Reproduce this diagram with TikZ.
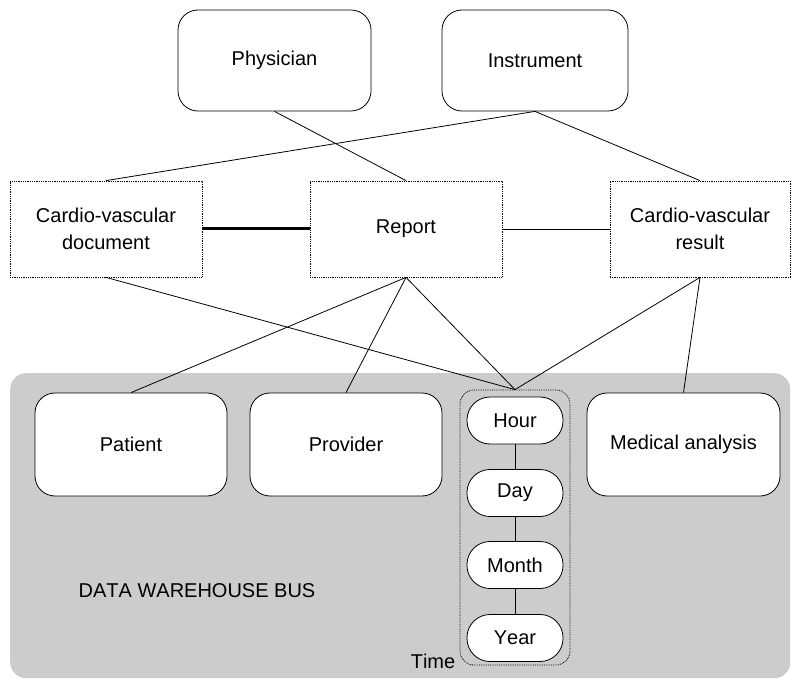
\documentclass[tikz,border=0pt]{standalone}
\usepackage{fontspec}
\setmainfont[Kerning=Off]{Liberation Sans}
\begin{document}
\begin{tikzpicture}[x=1pt,y=-1pt,
  every node/.style={font=\fontsize{20}{26.5}\selectfont, align=center, inner sep=0pt},
  roundbox/.style={draw, line width=0.8pt, rounded corners=20pt, fill=white},
  dotbox/.style={draw, densely dotted, line width=0.8pt, fill=white},
  pill/.style={draw, line width=0.8pt, rounded corners=23pt, fill=white, minimum width=96pt, minimum height=47pt},
  conn/.style={line width=0.8pt},
  thickconn/.style={line width=3pt}]
\useasboundingbox (0,0) rectangle (792,684);
% bus
\node[fill=black!20, rounded corners=16pt, minimum width=780pt, minimum height=305pt, anchor=north west] (bus) at (10,373) {};
\node (buslabel) at (197,591) {DATA WAREHOUSE BUS};
% top boxes
\node[roundbox, minimum width=193pt, minimum height=101pt] (phys) at (274.5,60.5) {Physician};
\node[roundbox, minimum width=186pt, minimum height=101pt] (inst) at (535,60.5) {Instrument};
% middle
\node[dotbox, minimum width=192pt, minimum height=96pt] (doc) at (106,229) {Cardio-vascular\\document};
\node[dotbox, minimum width=192pt, minimum height=96pt] (rep) at (406,229) {Report};
\node[dotbox, minimum width=180pt, minimum height=96pt] (res) at (700,229) {Cardio-vascular\\result};
% bottom
\node[roundbox, minimum width=192pt, minimum height=103pt] (pat) at (131,444.5) {Patient};
\node[roundbox, minimum width=192pt, minimum height=103pt] (prov) at (346,444.5) {Provider};
\node[roundbox, minimum width=193pt, minimum height=103pt] (med) at (683.5,444.5) {Medical analysis};
% time group
\node[draw, densely dotted, line width=0.8pt, rounded corners=14pt, minimum width=110pt, minimum height=275pt] (time) at (515,527.5) {};
\node[pill] (hour) at (515,420.5) {Hour};
\node[pill] (day) at (515,493) {Day};
\node[pill] (month) at (515,565) {Month};
\node[pill] (year) at (515,638) {Year};
\node (timelabel) at (433,661) {Time};
\draw[conn] (hour) -- (day);
\draw[conn] (day) -- (month);
\draw[conn] (month) -- (year);
% connectors
\draw[conn] (phys.south) -- (rep.north);
\draw[conn] (inst.south) -- (doc.north);
\draw[conn] (inst.south) -- (res.north);
\draw[thickconn] (doc.east) -- (rep.west);
\draw[conn] (rep.east) -- (res.west);
\draw[conn] (doc.south) -- (time.north);
\draw[conn] (rep.south) -- (pat.north);
\draw[conn] (rep.south) -- (prov.north);
\draw[conn] (rep.south) -- (time.north);
\draw[conn] (res.south) -- (time.north);
\draw[conn] (res.south) -- (med.north);
\end{tikzpicture}
\end{document}
